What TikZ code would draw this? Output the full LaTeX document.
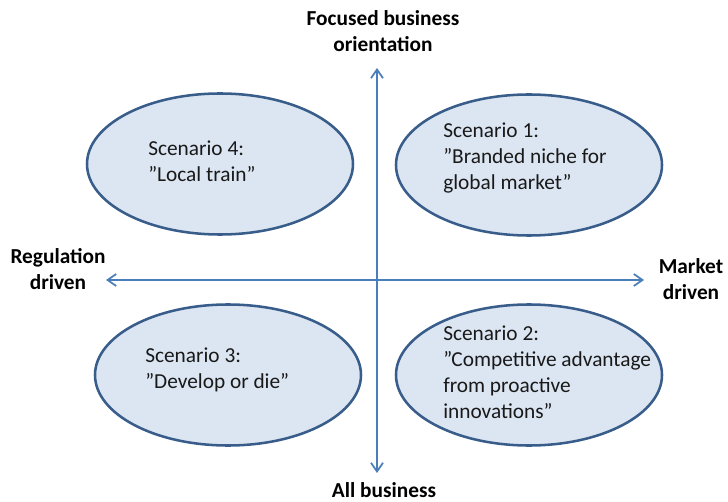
\documentclass[tikz,border=0pt]{standalone}
\usepackage{fontspec}
\setmainfont{Carlito}
\definecolor{axisblue}{RGB}{74, 126, 187}
\definecolor{ringblue}{RGB}{56, 93, 138}
\definecolor{scenfill}{RGB}{220, 230, 242}
\usepackage{tikz}
\usetikzlibrary{shapes.geometric, arrows.meta, positioning}

\begin{document}
\begin{tikzpicture}[x=0.75pt, y=-0.75pt,
    scen/.style={ellipse, draw=ringblue, fill=scenfill, line width=1.9pt, minimum width=199.5pt, minimum height=105.75pt, inner sep=0pt},
    scentext/.style={anchor=north west, inner sep=0pt, align=left, font=\fontsize{16}{19.5}\selectfont, text=black!90},
    axislbl/.style={anchor=north, inner sep=0pt, align=center, font=\fontsize{16}{19.5}\selectfont\bfseries},
    axisline/.style={draw=axisblue, line width=1.5pt, {Straight Barb[length=6.5pt, width=9pt, line width=1.3pt]}-{Straight Barb[length=6.5pt, width=9pt, line width=1.3pt]}}]
  \useasboundingbox (0,0) rectangle (728,502);

  % Axes
  \coordinate (ytop) at (377,68);
  \coordinate (ybot) at (377,473);
  \coordinate (xleft) at (106,280);
  \coordinate (xright) at (644,280);
  \draw[axisline] (ybot) -- (ytop);
  \draw[axisline] (xleft) -- (xright);

  % Axis labels
  \node[axislbl] (focused) at (383,10) {Focused business\\orientation};
  \node[axislbl] (allbiz) at (384,482) {All business};
  \node[axislbl] (regdriven) at (58,248) {Regulation\\driven};
  \node[axislbl] (mktdriven) at (691,258) {Market\\driven};

  % Scenarios
  \node[scen] (sc4) at (220,164) {};
  \node[scen] (sc1) at (529,165) {};
  \node[scen] (sc3) at (228,375) {};
  \node[scen] (sc2) at (529,375) {};

  \node[scentext] (sc4txt) at (148,141) {Scenario 4:\\”Local train”};
  \node[scentext] (sc1txt) at (443,123) {Scenario 1:\\”Branded niche for\\global market”};
  \node[scentext] (sc3txt) at (145,348) {Scenario 3:\\”Develop or die”};
  \node[scentext] (sc2txt) at (443,326) {Scenario 2:\\”Competitive advantage\\from proactive\\innovations”};
\end{tikzpicture}
\end{document}
